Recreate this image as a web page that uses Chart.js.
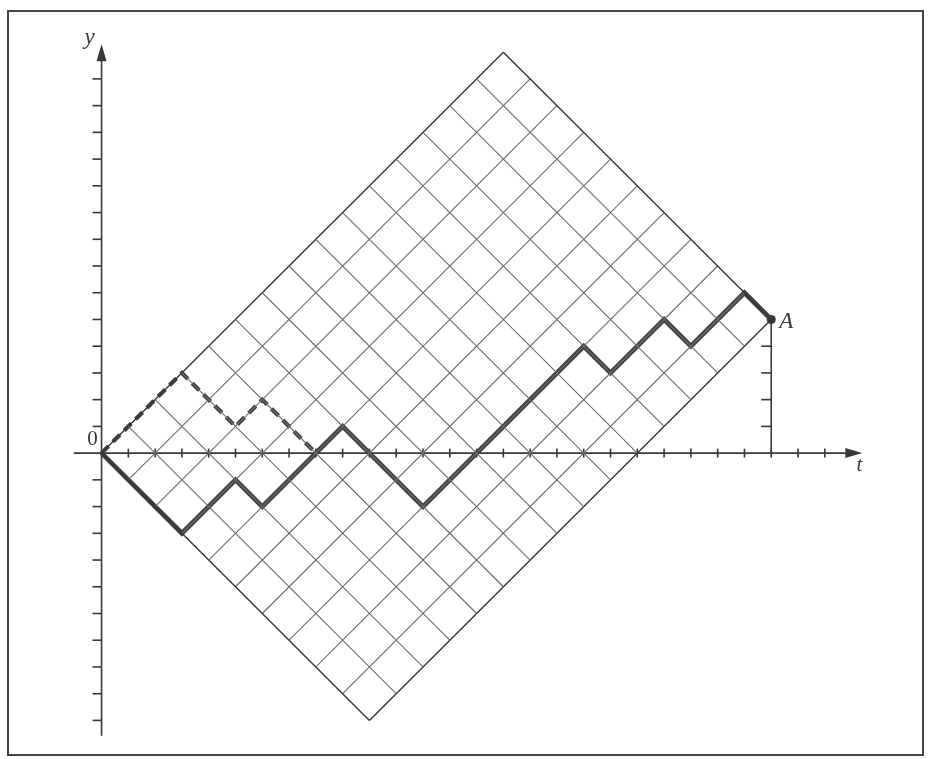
<!DOCTYPE html>
<html>
<head>
<meta charset="utf-8">
<script src="https://cdn.jsdelivr.net/npm/chart.js@4.4.1/dist/chart.umd.min.js"></script>
<style>
  html, body { margin: 0; padding: 0; background: #fff; }
  canvas { display: block; }
</style>
</head>
<body>
<canvas id="walk" width="928" height="759"></canvas>
<script>
// turning points of the path from 0 to A
const walkT = [0, 3, 5, 6, 9, 12, 18, 19, 21, 22, 24, 25];
const walkY = [0, -3, -1, -2, 1, -2, 4, 3, 5, 4, 6, 5];
// mirrored start of the path, up to its first return to zero
const mirrorT = [0, 3, 5, 6, 8];
const mirrorY = [0, 3, 1, 2, 0];
// end point A: 15 up steps and 10 down steps
const upSteps = 15;
const downSteps = 10;
const pointA = { t: upSteps + downSteps, y: upSteps - downSteps };
// tick marks
const tTicks = [1, 2, 3, 4, 5, 6, 7, 8, 9, 10, 11, 12, 13, 14, 15, 16, 17, 18, 19, 20, 21, 22, 23, 24, 25, 26, 27];
const yTicks = [-10, -9, -8, -7, -6, -5, -4, -3, -2, -1, 1, 2, 3, 4, 5, 6, 7, 8, 9, 10, 11, 12, 13, 14];
const aTicks = [1, 2, 3, 4];
const tAxisRange = [-1.04, 28.4];
const yAxisRange = [-10.57, 15.3];

const unit = 27.05;
const originX = 98, originY = 454;
const W = 928, H = 759;

const gridColor = '#6c6c6c';
const edgeColor = '#363636';
const inkColor = '#383838';
const pathColor = '#424242';

// lattice lines: (u, d) -> t = u + d, y = u - d
const datasets = [];
for (let u = 0; u <= upSteps; u++) {
    const edge = u === 0 || u === upSteps;
    datasets.push({
        data: [{ x: u, y: u }, { x: u + downSteps, y: u - downSteps }],
        borderColor: edge ? edgeColor : gridColor,
        borderWidth: edge ? 1.4 : 1.1
    });
}
for (let d = 0; d <= downSteps; d++) {
    const edge = d === 0 || d === downSteps;
    datasets.push({
        data: [{ x: d, y: -d }, { x: d + upSteps, y: upSteps - d }],
        borderColor: edge ? edgeColor : gridColor,
        borderWidth: edge ? 1.4 : 1.1
    });
}
datasets.push({
    data: mirrorT.map((t, i) => ({ x: t, y: mirrorY[i] })),
    borderColor: pathColor,
    borderWidth: 4.2,
    borderDash: [10, 6]
});
datasets.push({
    data: walkT.map((t, i) => ({ x: t, y: walkY[i] })),
    borderColor: pathColor,
    borderWidth: 4.8
});
datasets.push({
    data: [{ x: pointA.t, y: pointA.y }],
    showLine: false,
    pointRadius: 4.5,
    pointBackgroundColor: '#333',
    pointBorderWidth: 0
});
datasets.forEach(ds => {
    if (ds.showLine === undefined) ds.showLine = true;
    if (ds.pointRadius === undefined) ds.pointRadius = 0;
    ds.fill = false;
    ds.tension = 0;
});

function line(ctx, x1, y1, x2, y2) {
    ctx.beginPath();
    ctx.moveTo(x1, y1);
    ctx.lineTo(x2, y2);
    ctx.stroke();
}

const axesPlugin = {
    id: 'axes',
    beforeDraw(chart) {
        const ctx = chart.ctx;
        ctx.save();
        ctx.fillStyle = '#fff';
        ctx.fillRect(0, 0, W, H);
        ctx.strokeStyle = '#444';
        ctx.lineWidth = 2;
        ctx.strokeRect(8, 11, 915, 744);
        ctx.restore();
    },
    beforeDatasetsDraw(chart) {
        const { ctx, scales: { x, y } } = chart;
        const x0 = x.getPixelForValue(0);
        const y0 = y.getPixelForValue(0);
        ctx.save();
        ctx.strokeStyle = inkColor;
        ctx.fillStyle = inkColor;
        ctx.lineWidth = 1.6;

        // vertical axis with arrow
        const yTop = y.getPixelForValue(yAxisRange[1]);
        line(ctx, x0, y.getPixelForValue(yAxisRange[0]), x0, yTop + 6);
        ctx.beginPath();
        ctx.moveTo(x0, yTop);
        ctx.lineTo(x0 - 5, yTop + 17);
        ctx.lineTo(x0 + 5, yTop + 17);
        ctx.closePath();
        ctx.fill();
        yTicks.forEach(v => {
            const py = y.getPixelForValue(v);
            line(ctx, x0 - 9, py, x0, py);
        });

        // horizontal axis with arrow
        const tEnd = x.getPixelForValue(tAxisRange[1]);
        line(ctx, x.getPixelForValue(tAxisRange[0]), y0, tEnd - 6, y0);
        ctx.beginPath();
        ctx.moveTo(tEnd, y0);
        ctx.lineTo(tEnd - 17, y0 - 5);
        ctx.lineTo(tEnd - 17, y0 + 5);
        ctx.closePath();
        ctx.fill();
        tTicks.forEach(v => {
            const px = x.getPixelForValue(v);
            line(ctx, px, y0 - 4.5, px, y0 + 4.5);
        });

        // drop line from A
        const ax = x.getPixelForValue(pointA.t);
        line(ctx, ax, y.getPixelForValue(pointA.y), ax, y0);
        aTicks.forEach(v => {
            const py = y.getPixelForValue(v);
            line(ctx, ax - 10, py, ax, py);
        });

        // labels
        ctx.textAlign = 'center';
        ctx.textBaseline = 'middle';
        ctx.font = 'italic 23px "Liberation Serif", "DejaVu Serif", serif';
        ctx.fillText('y', x0 - 12, yTop - 6);
        ctx.fillText('A', ax + 15, y.getPixelForValue(pointA.y) + 2);
        ctx.font = 'italic 21px "Liberation Serif", "DejaVu Serif", serif';
        ctx.fillText('t', tEnd - 3, y0 + 12);
        ctx.font = '21px "Liberation Serif", "DejaVu Serif", serif';
        ctx.fillText('0', x0 - 9, y0 - 14);
        ctx.restore();
    }
};

new Chart(document.getElementById('walk'), {
    type: 'scatter',
    data: { datasets },
    options: {
        responsive: false,
        animation: false,
        layout: { padding: 0 },
        plugins: { legend: { display: false }, tooltip: { enabled: false } },
        elements: { line: { borderCapStyle: 'butt', borderJoinStyle: 'miter' } },
        scales: {
            x: { type: 'linear', display: false, min: -originX / unit, max: (W - originX) / unit },
            y: { type: 'linear', display: false, min: -(H - originY) / unit, max: originY / unit }
        }
    },
    plugins: [axesPlugin]
});
</script>
</body>
</html>
